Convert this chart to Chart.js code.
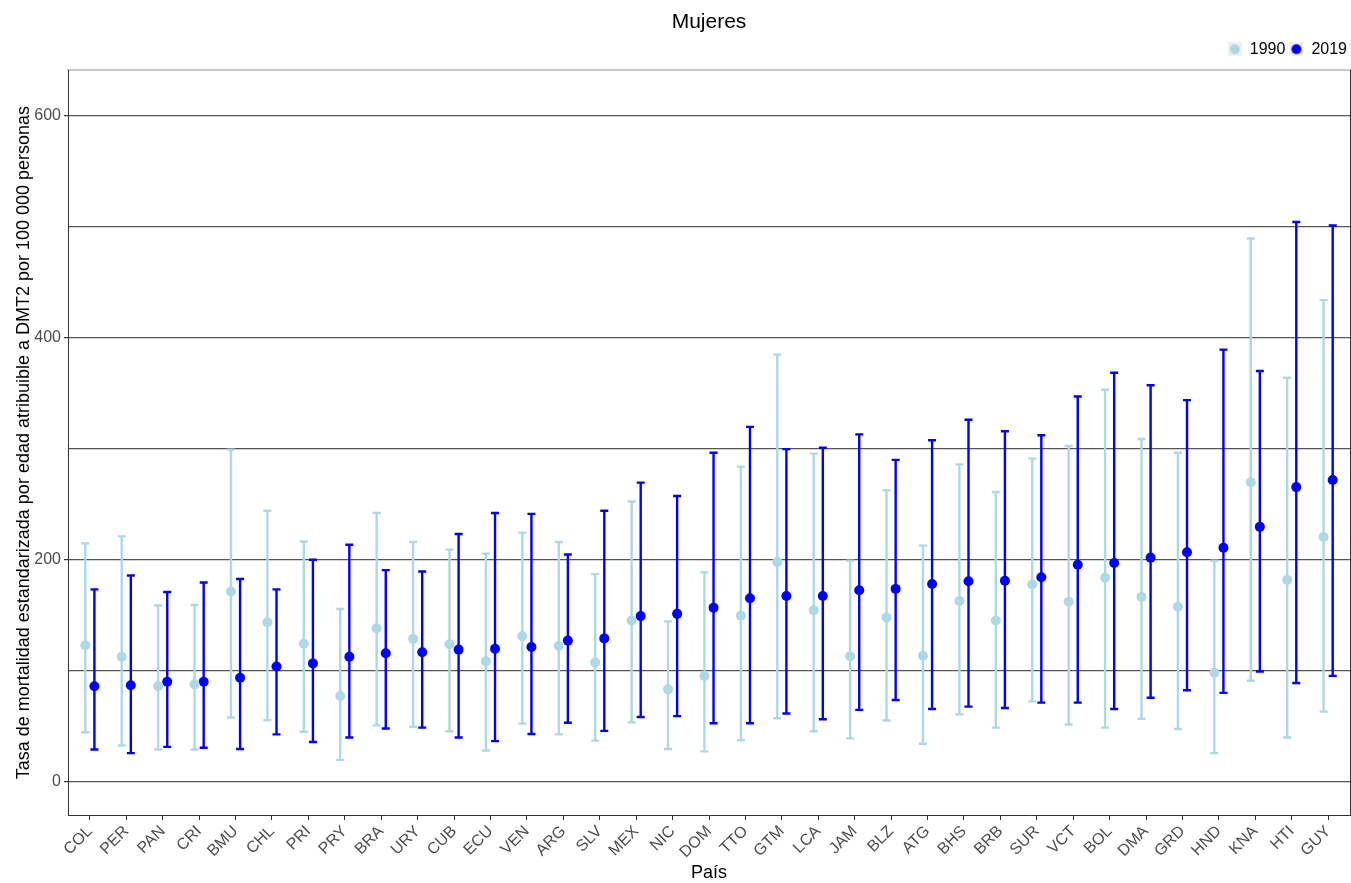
<!DOCTYPE html>
<html lang="es">
<head>
<meta charset="utf-8">
<title>Mujeres</title>
<script src="https://cdn.jsdelivr.net/npm/chart.js@4.4.1/dist/chart.umd.min.js"></script>
<style>
  html, body { margin: 0; padding: 0; background: #ffffff; }
  #lienzo { display: block; }
</style>
</head>
<body>
<canvas id="lienzo" width="1351" height="883"></canvas>
<script>
// Países, ordenados por la tasa de 2019
const paises = ['COL','PER','PAN','CRI','BMU','CHL','PRI','PRY','BRA','URY','CUB','ECU','VEN','ARG','SLV','MEX','NIC','DOM','TTO','GTM','LCA','JAM','BLZ','ATG','BHS','BRB','SUR','VCT','BOL','DMA','GRD','HND','KNA','HTI','GUY'];

// 1990: tasa y su intervalo de incertidumbre
const tasa1990 = [123, 112.6, 86, 87.7, 171.3, 143.6, 124.3, 77.2, 138.3, 128.7, 123.9, 108.6, 131.1, 122.2, 107.4, 145.2, 83.2, 95.3, 149.6, 197.9, 154.4, 113, 148, 113.4, 162.9, 145.2, 177.7, 162.1, 183.8, 166.5, 157.6, 98.1, 269.8, 181.8, 220.4];
const inf1990  = [44.6, 32.6, 29, 29, 57.9, 55.5, 45, 19.7, 50.7, 49.5, 45.4, 28.1, 52.3, 42.6, 37, 53.5, 29.4, 27.3, 37.4, 57.1, 45.4, 39, 55.1, 34.2, 60.7, 48.7, 72.4, 51.5, 48.7, 56.7, 47.5, 25.7, 90.9, 39.8, 63.1];
const sup1990  = [214.7, 221, 158.8, 159.2, 299.2, 244.1, 216.4, 155.6, 242.1, 216, 209.1, 205.5, 224.4, 216, 187, 252.5, 144.4, 188.6, 283.9, 384.8, 295.6, 199.1, 262.6, 212.7, 285.9, 261, 291.1, 302.4, 353.1, 308.8, 296.4, 199.1, 489.4, 363.9, 433.9];

// 2019: tasa y su intervalo de incertidumbre
const tasa2019 = [86, 86.9, 90, 90, 93.7, 103.8, 106.6, 112.6, 115.8, 116.6, 119, 119.8, 121.4, 127.1, 129.1, 149.2, 151.2, 156.8, 165.3, 167.3, 167.3, 172.5, 173.7, 178.1, 180.6, 181, 184.2, 195.4, 197, 201.9, 206.7, 210.7, 229.6, 265.4, 271.8];
const inf2019  = [29, 25.7, 31.4, 30.6, 29.4, 42.6, 35.8, 39.8, 47.9, 48.7, 39.8, 36.6, 43, 53.1, 45.8, 58.3, 59.1, 52.7, 52.7, 61.5, 56.3, 64.7, 73.6, 65.5, 67.6, 66.4, 71.2, 71.2, 65.5, 75.6, 82.4, 80, 99.3, 88.9, 95.3];
const sup2019  = [173.3, 185.8, 170.9, 179.4, 182.6, 173.3, 199.9, 213.5, 190.6, 189.4, 223.2, 242.1, 241.3, 204.7, 244.1, 269.4, 257.4, 296.4, 319.7, 299.6, 300.8, 312.9, 289.9, 307.6, 326.1, 315.7, 312.1, 347, 368.4, 357.1, 343.8, 389.3, 370, 504.3, 501.1];

// Marcas del eje vertical: líneas cada 100, etiquetas cada 200
const lineasY = [0, 100, 200, 300, 400, 500, 600];
const etiquetasY = [0, 200, 400, 600];

const colores = { a1990: '#ADD8E6', a2019: '#0000FF' };
const desplazamiento = 0.125;   // separación de los dos años dentro de cada país
Chart.defaults.font.family = "'Liberation Sans', Arial, Helvetica, sans-serif";

function serie(tasa, inf, sup, dx) {
  return paises.map((p, i) => ({ x: i + dx, y: tasa[i], yMin: inf[i], yMax: sup[i] }));
}

// Icono de la leyenda: fondo gris claro con un punto del color de la serie
function iconoLeyenda(color) {
  const c = document.createElement('canvas');
  c.width = 14; c.height = 14;
  const g = c.getContext('2d');
  g.fillStyle = '#f0f0f0';
  g.fillRect(0, 0, 14, 14);
  g.fillStyle = color;
  g.beginPath();
  g.arc(7, 7, 5, 0, Math.PI * 2);
  g.fill();
  return c;
}
const iconos = [iconoLeyenda(colores.a1990), iconoLeyenda(colores.a2019)];

// Barras de error con remates, dibujadas con las escalas del gráfico
const barrasError = {
  id: 'barrasError',
  beforeDatasetDraw(chart, args) {
    const { ctx, scales: { y } } = chart;
    const ds = chart.data.datasets[args.index];
    ctx.save();
    ctx.strokeStyle = ds.borderColor;
    ctx.lineWidth = 2.4;
    ctx.lineCap = 'butt';
    args.meta.data.forEach((pt, i) => {
      const d = ds.data[i];
      const yArriba = y.getPixelForValue(d.yMax);
      const yAbajo = y.getPixelForValue(d.yMin);
      const x = pt.x;
      const w = 4;
      ctx.beginPath();
      ctx.moveTo(x, yArriba); ctx.lineTo(x, yAbajo);
      ctx.moveTo(x - w, yArriba); ctx.lineTo(x + w, yArriba);
      ctx.moveTo(x - w, yAbajo); ctx.lineTo(x + w, yAbajo);
      ctx.stroke();
    });
    ctx.restore();
  }
};

new Chart(document.getElementById('lienzo'), {
  type: 'scatter',
  data: {
    datasets: [
      {
        label: '1990',
        data: serie(tasa1990, inf1990, sup1990, -desplazamiento),
        backgroundColor: colores.a1990,
        borderColor: colores.a1990,
        borderWidth: 0,
        pointRadius: 5,
        pointHoverRadius: 5
      },
      {
        label: '2019',
        data: serie(tasa2019, inf2019, sup2019, desplazamiento),
        backgroundColor: colores.a2019,
        borderColor: colores.a2019,
        borderWidth: 0,
        pointRadius: 5,
        pointHoverRadius: 5
      }
    ]
  },
  options: {
    responsive: false,
    animation: false,
    devicePixelRatio: 1,
    layout: { padding: 0, autoPadding: false },
    plugins: {
      title: {
        display: true,
        fullSize: false,
        text: 'Mujeres',
        color: '#000000',
        font: { size: 21, weight: 'normal' },
        padding: { top: 10, bottom: 2 }
      },
      legend: {
        display: true,
        position: 'top',
        align: 'end',
        labels: {
          usePointStyle: true,
          boxWidth: 14,
          padding: 4,
          color: '#000000',
          font: { size: 16 },
          generateLabels(chart) {
            const items = Chart.defaults.plugins.legend.labels.generateLabels(chart);
            items.forEach((it, i) => { it.pointStyle = iconos[i]; });
            return items;
          }
        }
      },
      tooltip: { enabled: false }
    },
    scales: {
      x: {
        type: 'linear',
        position: 'bottom',
        min: -0.6,
        max: paises.length - 0.4,
        afterBuildTicks: s => { s.ticks = paises.map((p, i) => ({ value: i })); },
        afterFit: s => { s.height = 68; s.paddingLeft = 0; s.paddingRight = 0; },
        ticks: {
          autoSkip: false,
          minRotation: 45,
          maxRotation: 45,
          padding: 2,
          color: '#4d4d4d',
          font: { size: 16 },
          callback: v => paises[v] ?? ''
        },
        grid: { drawOnChartArea: false, drawTicks: true, tickLength: 5, tickColor: '#333333' },
        border: { color: '#333333', width: 1 },
        title: {
          display: true,
          text: 'País',
          color: '#000000',
          font: { size: 18, lineHeight: 1.1 },
          padding: { top: 0, bottom: 0 }
        }
      },
      xArriba: {
        type: 'linear',
        position: 'top',
        display: true,
        afterFit: s => { s.height = 3; s.paddingLeft = 0; s.paddingRight = 0; },
        grid: { display: false, drawTicks: false },
        ticks: { display: false },
        border: { display: true, color: '#c8c8c8', width: 2 }
      },
      y: {
        type: 'linear',
        position: 'left',
        min: -30,
        max: 641,
        afterBuildTicks: s => { s.ticks = lineasY.map(v => ({ value: v })); },
        afterFit: s => { s.width = 68; },
        ticks: {
          padding: 3,
          color: '#4d4d4d',
          font: { size: 16 },
          callback: v => etiquetasY.includes(v) ? String(v) : ''
        },
        grid: {
          color: '#555555',
          lineWidth: 1.2,
          tickLength: 4,
          tickColor: c => (c.tick && etiquetasY.includes(c.tick.value)) ? '#333333' : 'rgba(0,0,0,0)'
        },
        border: { color: '#333333', width: 1 },
        title: {
          display: true,
          text: 'Tasa de mortalidad estandarizada por edad atribuible a DMT2 por 100 000 personas',
          color: '#000000',
          font: { size: 18 },
          padding: { top: 13, bottom: 0 }
        }
      },
      yDerecha: {
        type: 'linear',
        position: 'right',
        display: true,
        afterFit: s => { s.width = 1; },
        grid: { display: false, drawTicks: false },
        ticks: { display: false },
        border: { display: true, color: '#333333', width: 1 }
      }
    }
  },
  plugins: [barrasError]
});
</script>
</body>
</html>
